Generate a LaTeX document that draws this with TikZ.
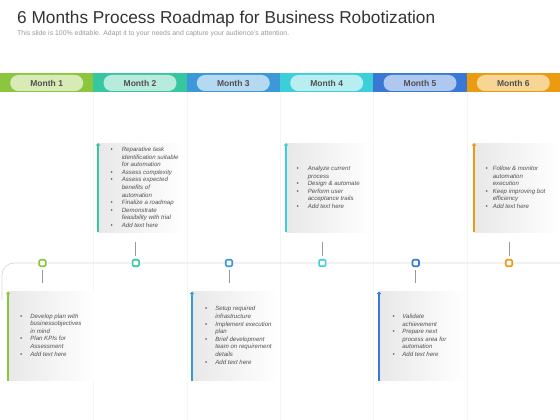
\documentclass[tikz,border=0pt]{standalone}
\usepackage{fontspec}
\setmainfont{Liberation Sans}
\usetikzlibrary{arrows.meta}

\definecolor{c1}{HTML}{8CC63F}
\definecolor{c2}{HTML}{36C6A0}
\definecolor{c3}{HTML}{3D98DA}
\definecolor{c4}{HTML}{3CCFDA}
\definecolor{c5}{HTML}{3A78D6}
\definecolor{c6}{HTML}{EB9B12}
\definecolor{p1}{HTML}{D8EAB6}
\definecolor{p2}{HTML}{B8EBDC}
\definecolor{p3}{HTML}{B6D9F2}
\definecolor{p4}{HTML}{B8EEF2}
\definecolor{p5}{HTML}{AFC8F0}
\definecolor{p6}{HTML}{F6D595}
\definecolor{txt}{HTML}{505050}

\tikzset{
  pill/.style={fill=#1, rounded corners=8pt, minimum width=73pt, minimum height=16pt,
    inner sep=0pt, font=\fontsize{8.5}{10}\selectfont\bfseries, text=txt},
  dot/.style={draw=#1, line width=1.6pt, fill=white, rounded corners=1.2pt,
    minimum size=6.5pt, inner sep=0pt},
  stem/.style={draw=black!40, line width=0.8pt},
  card/.style={minimum width=86pt, minimum height=89pt, inner sep=0pt,
    left color=black!9, right color=white, anchor=north west},
  bar/.style={draw=#1, line width=2.4pt, -{Triangle[length=2.5pt,width=4.5pt]}},
  notes/.style={font=\fontsize{6.1}{7.6}\selectfont\itshape, text=txt, inner sep=0pt, anchor=west},
}

\begin{document}
\begin{tikzpicture}[x=1pt,y=-1pt]
  \useasboundingbox (0,0) rectangle (560,420);

  % title
  \node[anchor=base west, font=\fontsize{17.25}{20}\selectfont, text=black!80, inner sep=0pt] (title) at (17,24)
    {6 Months Process Roadmap for Business Robotization};
  \node[anchor=base west, font=\fontsize{6.9}{8}\selectfont, text=black!40, inner sep=0pt] (sub) at (17,35.5)
    {This slide is 100\% editable. Adapt it to your needs and capture your audience's attention.};

  % column separators
  \draw[black!4] (93.3,92) -- (93.3,420);
  \draw[black!4] (186.7,92) -- (186.7,420);
  \draw[black!4] (280,92) -- (280,420);
  \draw[black!4] (373.3,92) -- (373.3,420);
  \draw[black!4] (466.7,92) -- (466.7,420);

  % month band
  \fill[c1] (0,73.5) rectangle (93.3,92.5);
  \fill[c2] (93.3,73.5) rectangle (186.7,92.5);
  \fill[c3] (186.7,73.5) rectangle (280,92.5);
  \fill[c4] (280,73.5) rectangle (373.3,92.5);
  \fill[c5] (373.3,73.5) rectangle (466.7,92.5);
  \fill[c6] (466.7,73.5) rectangle (560,92.5);

  \node[pill=p1] (m1) at (46.7,83) {Month 1};
  \node[pill=p2] (m2) at (140,83) {Month 2};
  \node[pill=p3] (m3) at (233.3,83) {Month 3};
  \node[pill=p4] (m4) at (326.7,83) {Month 4};
  \node[pill=p5] (m5) at (420,83) {Month 5};
  \node[pill=p6] (m6) at (513.3,83) {Month 6};

  % timeline
  \draw[black!15, line width=0.7pt, rounded corners=12pt] (2,300) |- (560,263);

  \node[dot=c1] (d1) at (42.5,263) {};
  \node[dot=c2] (d2) at (135.8,263) {};
  \node[dot=c3] (d3) at (229,263) {};
  \node[dot=c4] (d4) at (322.4,263) {};
  \node[dot=c5] (d5) at (415.7,263) {};
  \node[dot=c6] (d6) at (509,263) {};

  \coordinate (s1) at (42.5,283);
  \coordinate (s2) at (135.8,242);
  \coordinate (s3) at (229,283);
  \coordinate (s4) at (322.4,242);
  \coordinate (s5) at (415.7,283);
  \coordinate (s6) at (509,242);

  \draw[stem] ([yshift=-3pt]d1.south) -- (s1);
  \draw[stem] ([yshift=3pt]d2.north) -- (s2);
  \draw[stem] ([yshift=-3pt]d3.south) -- (s3);
  \draw[stem] ([yshift=3pt]d4.north) -- (s4);
  \draw[stem] ([yshift=-3pt]d5.south) -- (s5);
  \draw[stem] ([yshift=3pt]d6.north) -- (s6);

  % cards
  \node[card] (b1) at (8,291.5) {};
  \node[card] (b2) at (98,143) {};
  \node[card] (b3) at (192,291.5) {};
  \node[card] (b4) at (286,143) {};
  \node[card] (b5) at (379,291.5) {};
  \node[card] (b6) at (474,143) {};

  \draw[bar=c1] (b1.south west) -- (b1.north west);
  \draw[bar=c2] (b2.south west) -- (b2.north west);
  \draw[bar=c3] (b3.south west) -- (b3.north west);
  \draw[bar=c4] (b4.south west) -- (b4.north west);
  \draw[bar=c5] (b5.south west) -- (b5.north west);
  \draw[bar=c6] (b6.south west) -- (b6.north west);

  % notes
  \node[notes] (t1) at (20,335.5) {\begin{tabular}{@{}l@{\hspace{8pt}}l@{}}
    \textbullet & Develop plan with\\
                & businessobjectives\\
                & in mind\\
    \textbullet & Plan KPIs for\\
                & Assessment\\
    \textbullet & Add text here
  \end{tabular}};

  \node[notes] (t2) at (110.5,188) {\begin{tabular}{@{}l@{\hspace{9pt}}l@{}}
    \textbullet & Reparative task\\
                & identification suitable\\
                & for automation\\
    \textbullet & Assess complexity\\
    \textbullet & Assess expected\\
                & benefits of\\
                & automation\\
    \textbullet & Finalize a roadmap\\
    \textbullet & Demonstrate\\
                & feasibility with trial\\
    \textbullet & Add text here
  \end{tabular}};

  \node[notes] (t3) at (205,336) {\begin{tabular}{@{}l@{\hspace{8pt}}l@{}}
    \textbullet & Setup required\\
                & infrastructure\\
    \textbullet & Implement execution\\
                & plan\\
    \textbullet & Brief development\\
                & team on requirement\\
                & details\\
    \textbullet & Add text here
  \end{tabular}};

  \node[notes] (t4) at (296.5,188) {\begin{tabular}{@{}l@{\hspace{9pt}}l@{}}
    \textbullet & Analyze current\\
                & process\\
    \textbullet & Design \& automate\\
    \textbullet & Perform user\\
                & acceptance trails\\
    \textbullet & Add text here
  \end{tabular}};

  \node[notes] (t5) at (392.5,336) {\begin{tabular}{@{}l@{\hspace{7.5pt}}l@{}}
    \textbullet & Validate\\
                & achievement\\
    \textbullet & Prepare next\\
                & process area for\\
                & automation\\
    \textbullet & Add text here
  \end{tabular}};

  \node[notes] (t6) at (485.5,188) {\begin{tabular}{@{}l@{\hspace{5pt}}l@{}}
    \textbullet & Follow \& monitor\\
                & automation\\
                & execution\\
    \textbullet & Keep improving bot\\
                & efficiency\\
    \textbullet & Add text here
  \end{tabular}};
\end{tikzpicture}
\end{document}
